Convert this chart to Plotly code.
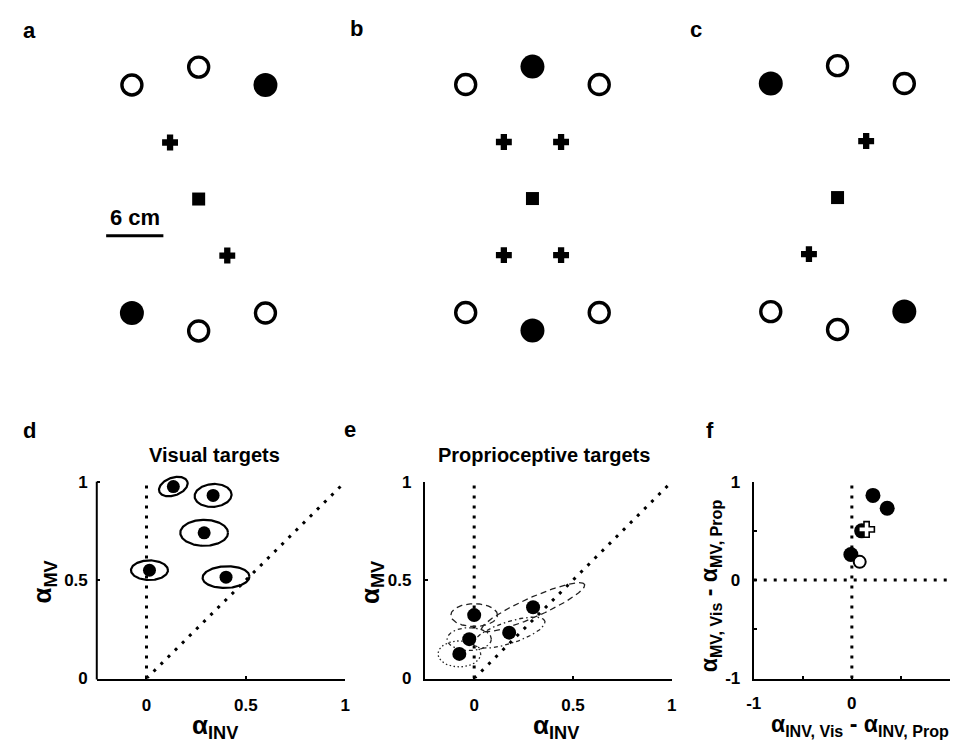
import numpy as np
import plotly.graph_objects as go

W, H = 955, 746
FONT = "Liberation Sans, Arial, sans-serif"

# ---------------- target layouts (cm, start position at origin) ----------------
target_x = [-7.0, 0.0, 7.0, -7.0, 0.0, 7.0]
target_y = [12.1, 14.0, 12.1, -12.1, -14.0, -12.1]
filled_idx = {"a": [2, 3], "b": [1, 4], "c": [0, 5]}
via_x = {"a": [-3, 3], "b": [-3, 3, -3, 3], "c": [3, -3]}
via_y = {"a": [6, -6], "b": [6, 6, -6, -6], "c": [6, -6]}
start_x, start_y = [0.0], [0.0]
scale_bar_cm = 6
scale_bar_x0, scale_bar_y = -9.7, -3.9

# ---------------- panel d: visual targets ----------------
vis_inv = [0.135, 0.335, 0.29, 0.015, 0.40]
vis_mv = [0.975, 0.93, 0.74, 0.55, 0.515]
vis_sx = [0.075, 0.093, 0.12, 0.093, 0.118]
vis_sy = [0.045, 0.058, 0.066, 0.05, 0.055]
vis_ang = [20, 4, 0, 0, 2]

# ---------------- panel e: proprioceptive targets ----------------
prop_inv = [0.0, -0.025, -0.075, 0.177, 0.298]
prop_mv = [0.322, 0.20, 0.125, 0.233, 0.362]
prop_sx = [0.118, 0.112, 0.108, 0.19, 0.285]
prop_sy = [0.058, 0.058, 0.066, 0.055, 0.05]
prop_ang = [0, 0, 0, 18, 24]
prop_dash = ["6px,4px", "4px,3px,1.5px,3px", "1.5px,2.5px", "4px,3px,1.5px,3px", "6px,4px"]

# ---------------- panel f: visual minus proprioceptive ----------------
diff_inv_filled = [0.215, 0.36, 0.10, -0.01]
diff_mv_filled = [0.86, 0.73, 0.50, 0.26]
diff_inv_open = [0.08]
diff_mv_open = [0.185]
diff_inv_cross = [0.15]
diff_mv_cross = [0.515]


def fx(px):
    return px / W


def fy(py):
    return 1 - py / H


def ellipse(cx, cy, a, b, ang, n=160):
    t = np.linspace(0, 2 * np.pi, n)
    c, s = np.cos(np.radians(ang)), np.sin(np.radians(ang))
    return (cx + a * np.cos(t) * c - b * np.sin(t) * s,
            cy + a * np.cos(t) * s + b * np.sin(t) * c)


fig = go.Figure()
layout = dict(width=W, height=H, margin=dict(l=0, r=0, t=0, b=0),
              paper_bgcolor="white", plot_bgcolor="white", showlegend=False,
              font=dict(family=FONT, color="black"))
annotations = []
shapes = []

# ---------------- top row: a, b, c ----------------
S = 9.67  # px per cm
centers = {"a": (193.3, 195.0), "b": (531.7, 194.5), "c": (841.0, 193.5)}
half_w, top_px, bot_px = 110, 25, 365
for i, key in enumerate(["a", "b", "c"]):
    n = i + 1
    cx, cy = centers[key]
    xa, ya = f"xaxis{n}", f"yaxis{n}"
    layout[xa] = dict(domain=[fx(cx - half_w), fx(cx + half_w)],
                      range=[-half_w / S, half_w / S], visible=False,
                      anchor=f"y{n}", fixedrange=True)
    layout[ya] = dict(domain=[fy(bot_px), fy(top_px)],
                      range=[(cy - bot_px) / S, (cy - top_px) / S], visible=False,
                      anchor=f"x{n}", fixedrange=True)
    xr, yr = f"x{n}", f"y{n}"
    filled = filled_idx[key]
    ox = [target_x[j] for j in range(6) if j not in filled]
    oy = [target_y[j] for j in range(6) if j not in filled]
    fxs = [target_x[j] for j in filled]
    fys = [target_y[j] for j in filled]
    fig.add_trace(go.Scatter(x=ox, y=oy, mode="markers", xaxis=xr, yaxis=yr,
                             marker=dict(symbol="circle", size=20, color="white",
                                         line=dict(color="black", width=3.4)),
                             cliponaxis=False))
    fig.add_trace(go.Scatter(x=fxs, y=fys, mode="markers", xaxis=xr, yaxis=yr,
                             marker=dict(symbol="circle", size=24, color="black"),
                             cliponaxis=False))
    fig.add_trace(go.Scatter(x=via_x[key], y=via_y[key], mode="markers", xaxis=xr, yaxis=yr,
                             marker=dict(symbol="cross", size=12, color="black",
                                         line=dict(color="black", width=1.5)),
                             cliponaxis=False))
    fig.add_trace(go.Scatter(x=start_x, y=start_y, mode="markers", xaxis=xr, yaxis=yr,
                             marker=dict(symbol="square", size=13, color="black"),
                             cliponaxis=False))

# scale bar in panel a
shapes.append(dict(type="line", xref="x1", yref="y1",
                   x0=scale_bar_x0, x1=scale_bar_x0 + scale_bar_cm,
                   y0=scale_bar_y, y1=scale_bar_y, line=dict(color="black", width=3)))
annotations.append(dict(xref="x1", yref="y1", x=scale_bar_x0 + scale_bar_cm / 2,
                        y=scale_bar_y + 1.9, text=f"<b>{scale_bar_cm} cm</b>",
                        showarrow=False, font=dict(size=22, family=FONT)))

# ---------------- bottom row axes ----------------
tickfont = dict(family=FONT, size=17, color="black", weight="bold")
common = dict(showgrid=False, zeroline=False, ticks="inside", ticklen=3, tickwidth=2,
              tickcolor="black", linecolor="black", linewidth=2, tickfont=tickfont,
              fixedrange=True)

Y0, Y1 = 687, 485  # pixel rows of the lower/upper axis limits
ppu = (Y0 - Y1) / 1.0

# d
layout["xaxis4"] = dict(common, domain=[fx(90), fx(342)], range=[-0.25, 1], anchor="y4",
                        showline=True, tickvals=[0, 0.5, 1], ticktext=["0", "0.5", "1"],
                        ticklabelstandoff=10)
d_top = 1.06
layout["yaxis4"] = dict(common, domain=[fy(Y0), fy(Y0 - d_top * ppu)], range=[0, d_top],
                        anchor="x4", showline=False, tickvals=[0, 0.5, 1],
                        ticktext=["0", "0.5", "1"], ticklabelstandoff=8)
shapes.append(dict(type="line", xref="paper", yref="paper", x0=fx(90), x1=fx(90),
                   y0=fy(Y0 + 1), y1=fy(Y1), line=dict(color="black", width=2)))
# e
layout["xaxis5"] = dict(common, domain=[fx(422.5), fx(673)], range=[-0.25, 1], anchor="y5",
                        showline=True, tickvals=[0, 0.5, 1], ticktext=["0", "0.5", "1"],
                        ticklabelstandoff=10)
layout["yaxis5"] = dict(common, domain=[fy(Y0), fy(Y1)], range=[0, 1], anchor="x5",
                        showline=True, tickvals=[0, 0.5, 1], ticktext=["0", "0.5", "1"],
                        ticklabelstandoff=8)
# f
layout["xaxis6"] = dict(common, domain=[fx(756), 1.0], range=[-1, 1], anchor="y6",
                        showline=True, tickvals=[-1, -0.5, 0, 0.5, 1],
                        ticktext=["-1", "", "0", "", ""], ticklabelstandoff=8)
layout["yaxis6"] = dict(common, domain=[fy(Y0), fy(Y1)], range=[-1, 1], anchor="x6",
                        showline=True, tickvals=[-1, -0.5, 0, 0.5, 1],
                        ticktext=["-1", "", "0", "", "1"], ticklabelstandoff=8)

dotted = dict(color="black", width=3, dash="3px,7px")

# d and e guide lines: alpha_INV = 0 and identity
for n in (4, 5):
    fig.add_trace(go.Scatter(x=[0, 0], y=[0, 1], mode="lines", line=dotted,
                             xaxis=f"x{n}", yaxis=f"y{n}", hoverinfo="skip"))
    fig.add_trace(go.Scatter(x=[0, 1], y=[0, 1], mode="lines", line=dotted,
                             xaxis=f"x{n}", yaxis=f"y{n}", hoverinfo="skip"))

# d: visual targets
for i in range(len(vis_inv)):
    ex, ey = ellipse(vis_inv[i], vis_mv[i], vis_sx[i], vis_sy[i], vis_ang[i])
    fig.add_trace(go.Scatter(x=ex, y=ey, mode="lines", xaxis="x4", yaxis="y4",
                             line=dict(color="black", width=2.2), hoverinfo="skip"))
fig.add_trace(go.Scatter(x=vis_inv, y=vis_mv, mode="markers", xaxis="x4", yaxis="y4",
                         marker=dict(size=13, color="black"), cliponaxis=False))

# e: proprioceptive targets
for i in range(len(prop_inv)):
    ex, ey = ellipse(prop_inv[i], prop_mv[i], prop_sx[i], prop_sy[i], prop_ang[i])
    fig.add_trace(go.Scatter(x=ex, y=ey, mode="lines", xaxis="x5", yaxis="y5",
                             line=dict(color="#222", width=1.3, dash=prop_dash[i]),
                             hoverinfo="skip"))
fig.add_trace(go.Scatter(x=prop_inv, y=prop_mv, mode="markers", xaxis="x5", yaxis="y5",
                         marker=dict(size=14, color="black"), cliponaxis=False))

# f: differences
fig.add_trace(go.Scatter(x=[0, 0], y=[-1, 1], mode="lines", line=dotted,
                         xaxis="x6", yaxis="y6", hoverinfo="skip"))
fig.add_trace(go.Scatter(x=[-1, 1], y=[0, 0], mode="lines", line=dotted,
                         xaxis="x6", yaxis="y6", hoverinfo="skip"))
fig.add_trace(go.Scatter(x=diff_inv_filled, y=diff_mv_filled, mode="markers",
                         xaxis="x6", yaxis="y6", marker=dict(size=15, color="black"),
                         cliponaxis=False))
fig.add_trace(go.Scatter(x=diff_inv_open, y=diff_mv_open, mode="markers",
                         xaxis="x6", yaxis="y6",
                         marker=dict(size=12, color="white", line=dict(color="black", width=2)),
                         cliponaxis=False))
fig.add_trace(go.Scatter(x=diff_inv_cross, y=diff_mv_cross, mode="markers",
                         xaxis="x6", yaxis="y6",
                         marker=dict(symbol="cross", size=13, color="white",
                                     line=dict(color="black", width=1.6)),
                         cliponaxis=False))

# ---------------- text ----------------
def label(txt, x, y, size=22, angle=0, yanchor="middle"):
    annotations.append(dict(xref="paper", yref="paper", x=fx(x), y=fy(y), text=txt,
                            showarrow=False, textangle=angle, xanchor="center",
                            yanchor=yanchor, font=dict(family=FONT, size=size, color="black")))


for txt, (x, y) in {"a": (22, 22), "b": (353, 20), "c": (698, 21),
                    "d": (22, 433), "e": (347, 432), "f": (712, 433)}.items():
    label(f"<b>{txt}</b>", x, y, size=22)

label("<b>Visual targets</b>", 209, 458, size=20)
label("<b>Proprioceptive targets</b>", 543, 458, size=20)

label("<b>α<sub>INV</sub></b>", 210, 717, size=26, yanchor="top")
label("<b>α<sub>INV</sub></b>", 556, 717, size=26, yanchor="top")
label("<b>α<sub>MV</sub></b>", 36, 588, size=26, angle=-90)
label("<b>α<sub>MV</sub></b>", 368, 588, size=26, angle=-90)
label("<b>α<sub>INV, Vis</sub> - α<sub>INV, Prop</sub></b>", 864, 718, size=23, yanchor="top")
label("<b>α<sub>MV, Vis</sub> - α<sub>MV, Prop</sub></b>", 713, 592, size=23, angle=-90)

layout["annotations"] = annotations
layout["shapes"] = shapes
fig.update_layout(**layout)
fig.write_html("out.html")
